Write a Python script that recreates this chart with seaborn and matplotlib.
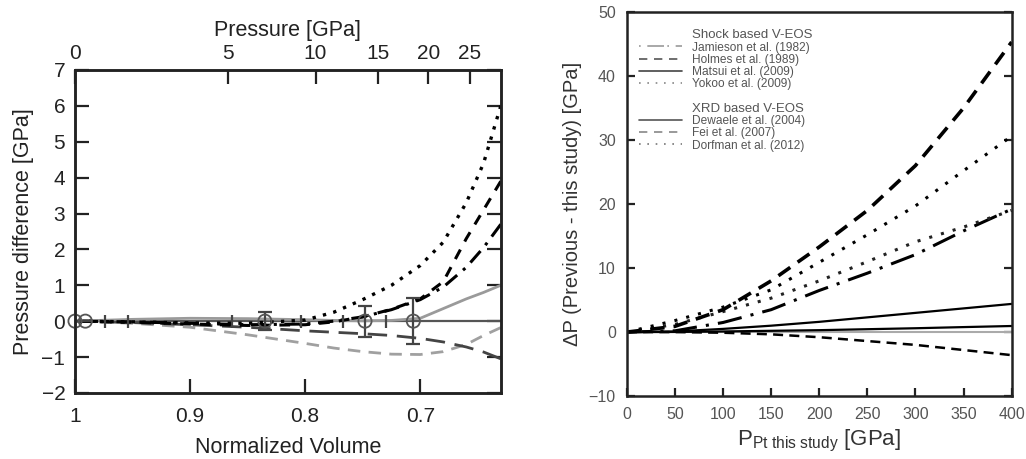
import numpy as np
import pandas as pd
import matplotlib
matplotlib.use("Agg")
import matplotlib.pyplot as plt
from matplotlib.lines import Line2D
import seaborn as sns

## data - left panel (pressure difference vs normalized volume)
vol = [1.0, 0.95, 0.9, 0.85, 0.8, 0.775, 0.75, 0.725, 0.7, 0.68, 0.66, 0.645, 0.63]
dp_dotted = [0, -0.02, -0.05, -0.06, 0.03, 0.25, 0.6, 1.0, 1.55, 2.2, 3.3, 4.4, 6.0]
dp_dashed = [0, -0.03, -0.08, -0.12, -0.1, -0.02, 0.12, 0.33, 0.62, 1.1, 2.3, 3.1, 3.9]
dp_dashdot = [0, -0.02, -0.06, -0.1, -0.08, 0.0, 0.12, 0.32, 0.6, 0.95, 1.5, 2.05, 2.7]
dp_gray_solid = [0, 0.05, 0.08, 0.07, 0.04, 0.02, 0.01, 0.02, 0.08, 0.35, 0.62, 0.8, 1.0]
dp_gray_dashed = [0, -0.06, -0.17, -0.38, -0.62, -0.75, -0.85, -0.92, -0.93, -0.85, -0.65, -0.4, -0.18]
dp_long_dashed = [0, -0.04, -0.1, -0.17, -0.27, -0.31, -0.35, -0.4, -0.48, -0.58, -0.72, -0.86, -1.05]

pts_vol = [1.0, 0.991, 0.835, 0.748, 0.706]
pts_dp = [0, 0, 0, 0, 0]
pts_err = [0, 0, 0.25, 0.43, 0.65]
small_vol = [0.974, 0.954, 0.864, 0.804, 0.767, 0.730]
small_dp = [0, 0, 0, 0, 0, 0]
small_err = [0.18, 0.18, 0.18, 0.18, 0.18, 0.18]

top_pressure = [0, 5, 10, 15, 20, 25]
top_vol = [1.0, 0.867, 0.791, 0.737, 0.693, 0.657]

## data - right panel (delta P vs P Pt this study)
p_pt = [0, 50, 100, 150, 200, 250, 300, 350, 400]
jamieson = [0, 0.2, 1.5, 3.5, 6.5, 9.2, 12.1, 15.8, 19.2]
holmes = [0, 0.9, 3.5, 8.0, 13.3, 19.0, 26.0, 35.0, 45.3]
matsui = [0, 0.1, 0.5, 1.0, 1.6, 2.3, 3.0, 3.7, 4.4]
yokoo = [0, 1.8, 3.9, 6.6, 10.9, 15.2, 19.7, 25.2, 30.6]
dewaele = [0, 0.02, 0.1, 0.2, 0.3, 0.45, 0.6, 0.78, 0.95]
fei = [0, 0.0, -0.1, -0.35, -0.8, -1.4, -2.0, -2.8, -3.6]
dorfman = [0, 1.2, 3.2, 5.3, 8.0, 11.0, 14.1, 16.4, 19.0]

sns.set_theme(style="ticks")
plt.rcParams['font.family'] = ['Liberation Sans', 'DejaVu Sans']
plt.rcParams['mathtext.fontset'] = 'custom'
plt.rcParams['mathtext.rm'] = 'Liberation Sans'
plt.rcParams['mathtext.it'] = 'Liberation Sans:italic'
plt.rcParams['xtick.direction'] = 'in'
plt.rcParams['ytick.direction'] = 'in'

fig = plt.figure(figsize=(10.26, 4.59), dpi=100)
ax1 = fig.add_axes([0.0731, 0.144, 0.415, 0.7035])
ax2 = fig.add_axes([0.611, 0.137, 0.375, 0.837])

## left panel
ax1.axhline(0, color='#555555', lw=1.6, zorder=1)
sns.lineplot(x=vol, y=dp_gray_solid, ax=ax1, color='#9a9a9a', lw=2, estimator=None)
sns.lineplot(x=vol, y=dp_gray_dashed, ax=ax1, color='#a0a0a0', lw=2, estimator=None,
             linestyle=(0, (4.5, 3)))
sns.lineplot(x=vol, y=dp_long_dashed, ax=ax1, color='#444444', lw=2, estimator=None,
             linestyle=(0, (7, 3.5)))
sns.lineplot(x=vol, y=dp_dashdot, ax=ax1, color='black', lw=2.2, estimator=None,
             linestyle=(0, (5, 2.5, 1, 2.5)))
sns.lineplot(x=vol, y=dp_dashed, ax=ax1, color='black', lw=2.2, estimator=None,
             linestyle=(0, (3.5, 3)))
sns.lineplot(x=vol, y=dp_dotted, ax=ax1, color='black', lw=2.4, estimator=None,
             linestyle=(0, (1, 2.2)))

ax1.errorbar(small_vol, small_dp, yerr=small_err, fmt='none', ecolor='#444444',
             elinewidth=1.6, capsize=0, zorder=3)
ax1.errorbar(pts_vol, pts_dp, yerr=pts_err, fmt='none', ecolor='#444444',
             elinewidth=1.6, capsize=5, capthick=1.6, zorder=3)
sns.scatterplot(x=pts_vol, y=pts_dp, ax=ax1, marker='o', s=90, facecolor='none',
                edgecolor='#555555', linewidth=1.3, zorder=4, clip_on=False)

ax1.set_xlim(1.0, 0.63)
ax1.set_ylim(-2, 7)
ax1.set_xticks([1.0, 0.9, 0.8, 0.7])
ax1.set_xticklabels(['1', '0.9', '0.8', '0.7'])
ax1.set_yticks(range(-2, 8))
ax1.tick_params(axis='both', which='major', direction='in', length=10, width=1.6,
                labelsize=15, color='#222222', labelcolor='#222222', right=True)
ax1.tick_params(axis='x', pad=10)
ax1.tick_params(axis='y', pad=7)
ax1.set_xlabel('Normalized Volume', fontsize=15.5, color='#222222', labelpad=8)
ax1.set_ylabel('Pressure difference [GPa]', fontsize=15.5, color='#222222', labelpad=5)
for s in ax1.spines.values():
    s.set_linewidth(1.8)
    s.set_color('#222222')

top = ax1.twiny()
top.set_xlim(ax1.get_xlim())
top.set_xticks(top_vol)
top.set_xticklabels([str(p) for p in top_pressure])
top.tick_params(axis='x', which='major', direction='in', length=10, width=1.6,
                labelsize=15, color='#222222', labelcolor='#222222', pad=5)
top.set_xlabel('Pressure [GPa]', fontsize=15.5, color='#222222', labelpad=6)
for s in top.spines.values():
    s.set_linewidth(1.8)
    s.set_color('#222222')

## right panel
ax2.axhline(0, color='#aaaaaa', lw=1.5, zorder=1)
sns.lineplot(x=p_pt, y=fei, ax=ax2, color='black', lw=1.8, estimator=None,
             linestyle=(0, (4, 2.5)))
sns.lineplot(x=p_pt, y=dewaele, ax=ax2, color='black', lw=1.6, estimator=None)
sns.lineplot(x=p_pt, y=matsui, ax=ax2, color='black', lw=1.6, estimator=None)
sns.lineplot(x=p_pt, y=jamieson, ax=ax2, color='black', lw=2.2, estimator=None,
             linestyle=(0, (8, 3, 1, 3)))
sns.lineplot(x=p_pt, y=dorfman, ax=ax2, color='#222222', lw=2.2, estimator=None,
             linestyle=(0, (1, 3)))
sns.lineplot(x=p_pt, y=yokoo, ax=ax2, color='black', lw=2.2, estimator=None,
             linestyle=(0, (1, 3)))
sns.lineplot(x=p_pt, y=holmes, ax=ax2, color='black', lw=2.6, estimator=None,
             linestyle=(0, (4, 2.5)))

ax2.set_xlim(0, 400)
ax2.set_ylim(-10, 50)
ax2.set_xticks(range(0, 401, 50))
ax2.set_yticks(range(-10, 51, 10))
ax2.tick_params(axis='both', which='major', direction='in', length=6, width=1.6,
                labelsize=11.5, color='#222222', labelcolor='#555555', right=True, pad=8)
ax2.set_xlabel(r'P$_{\rm Pt\ this\ study}$ [GPa]', fontsize=16, color='#333333', labelpad=4)
ax2.set_ylabel(u'\u0394P (Previous - this study) [GPa]', fontsize=14.5, color='#333333',
               labelpad=5)
for s in ax2.spines.values():
    s.set_linewidth(1.8)
    s.set_color('#222222')

blank = Line2D([], [], linestyle='none')
handles = [
    blank,
    Line2D([], [], color='#999999', lw=1.2, linestyle=(0, (1, 4, 10, 2))),
    Line2D([], [], color='#555555', lw=1.2, linestyle=(0, (5, 4))),
    Line2D([], [], color='#444444', lw=1.2),
    Line2D([], [], color='#888888', lw=1.2, linestyle=(0, (1, 4))),
    blank,
    blank,
    Line2D([], [], color='#555555', lw=1.2),
    Line2D([], [], color='#888888', lw=1.2, linestyle=(0, (5, 4))),
    Line2D([], [], color='#777777', lw=1.2, linestyle=(0, (1, 4))),
]
labels = ['Shock based V-EOS', 'Jamieson et al. (1982)', 'Holmes et al. (1989)',
          'Matsui et al. (2009)', 'Yokoo et al. (2009)', '', 'XRD based V-EOS',
          'Dewaele et al. (2004)', 'Fei et al. (2007)', 'Dorfman et al. (2012)']
leg = ax2.legend(handles, labels, loc='upper left', bbox_to_anchor=(0.02, 0.967),
                 frameon=False, fontsize=8.6, handlelength=3.6, handletextpad=0.8,
                 labelspacing=0.02, borderaxespad=0)
for i, t in enumerate(leg.get_texts()):
    t.set_color('#555555')
    if i in (0, 6):
        t.set_fontsize(9.5)

fig.savefig('out.png', dpi=100)
